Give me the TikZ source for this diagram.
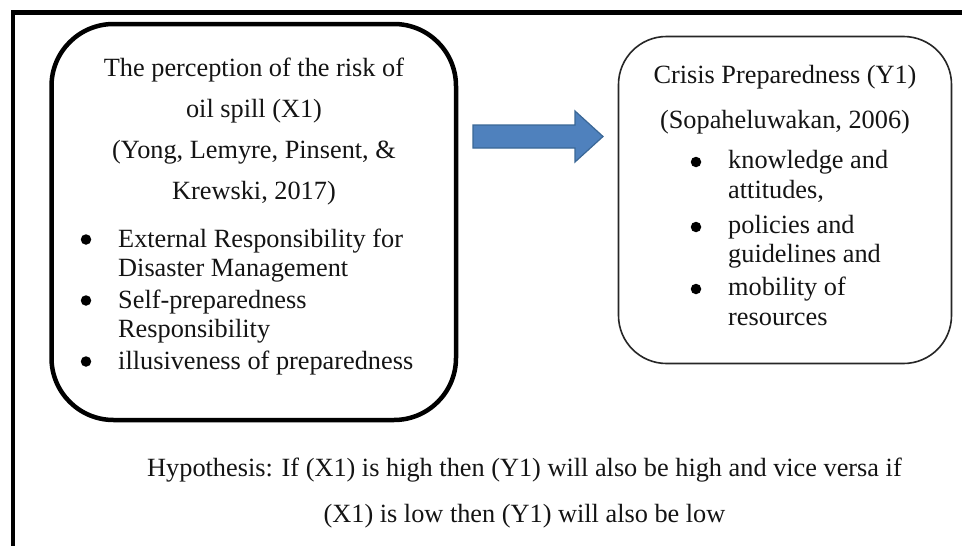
\documentclass[tikz,border=0pt]{standalone}
\usepackage{fontspec}
\setmainfont{Liberation Serif}
\begin{document}
\begin{tikzpicture}[x=1pt,y=-1pt,
  txt/.style={anchor=base,inner sep=0pt,font=\fontsize{26.3}{30}\selectfont,text=black!92},
  lefttxt/.style={txt,anchor=base west},
  dot/.style={circle,fill=black,inner sep=0pt,minimum size=10.5pt},
  bigbox/.style={draw=black,line width=4.5pt,rounded corners=62pt},
  smallbox/.style={draw=black!85,line width=1.6pt,rounded corners=48pt},
  blockarrow/.style={fill=arrowblue,draw=arrowedge,line width=1.2pt,line join=miter}]
\definecolor{arrowblue}{HTML}{4F81BD}
\definecolor{arrowedge}{HTML}{3A6796}
\useasboundingbox (0,0) rectangle (962,546);
\clip (0,0) rectangle (962,546);
\fill[white] (0,0) rectangle (962,546);

% outer frame (runs past the right and bottom edges)
\draw[line width=4.5pt] (13,12.5) rectangle (990,580);

% left box: independent variable
\draw[bigbox] (51.5,24) rectangle (456,420);
\node[txt] (x1a) at (254,76) {The perception of the risk of};
\node[txt] (x1b) at (254,117) {oil spill (X1)};
\node[txt] (x1c) at (254,158) {(Yong, Lemyre, Pinsent, \&};
\node[txt] (x1d) at (254,199) {Krewski, 2017)};
\node[dot] (b1) at (86,239.5) {};
\node[lefttxt] (x1e) at (118,247) {External Responsibility for};
\node[lefttxt] (x1f) at (118,276) {Disaster Management};
\node[dot] (b2) at (86,300.5) {};
\node[lefttxt] (x1g) at (118,308) {Self-preparedness};
\node[lefttxt] (x1h) at (118,337) {Responsibility};
\node[dot] (b3) at (86,361.5) {};
\node[lefttxt] (x1i) at (118,369) {illusiveness of preparedness};

% block arrow between the boxes
\draw[blockarrow] (473,125) -- (575,125) -- (575,111) -- (603,136.5)
  -- (575,162) -- (575,148) -- (473,148) -- cycle;

% right box: dependent variable
\draw[smallbox] (618.5,36.5) rectangle (951.5,363.5);
\node[txt] (y1a) at (785,83) {Crisis Preparedness (Y1)};
\node[txt] (y1b) at (785,128) {(Sopaheluwakan, 2006)};
\node[dot] (c1) at (696,162) {};
\node[lefttxt] (y1c) at (728,168) {knowledge and};
\node[lefttxt] (y1d) at (728,198) {attitudes,};
\node[dot] (c2) at (696,227) {};
\node[lefttxt] (y1e) at (728,233) {policies and};
\node[lefttxt] (y1f) at (728,262) {guidelines and};
\node[dot] (c3) at (696,289) {};
\node[lefttxt] (y1g) at (728,295) {mobility of};
\node[lefttxt] (y1h) at (728,325) {resources};

% hypothesis
\node[txt] (h1) at (524.5,476) {Hypothesis: If (X1) is high then (Y1) will also be high and vice versa if};
\node[txt] (h2) at (524.5,522) {(X1) is low then (Y1) will also be low};
\end{tikzpicture}
\end{document}
